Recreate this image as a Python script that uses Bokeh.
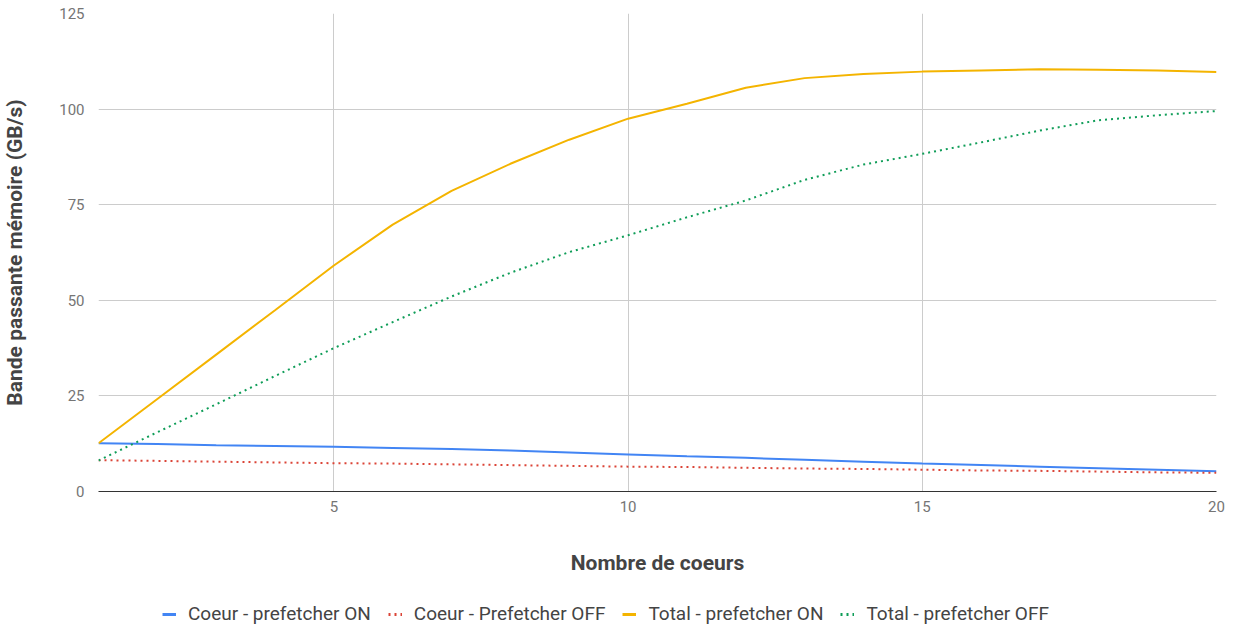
from bokeh.plotting import figure
from bokeh.layouts import column
from bokeh.models import ColumnDataSource, FixedTicker, Legend, LegendItem
from bokeh.embed import file_html
from bokeh.resources import INLINE

cores = list(range(1, 21))
coeur_on = [12.6, 12.4, 12.1, 11.9, 11.7, 11.4, 11.1, 10.7, 10.2, 9.7,
            9.2, 8.8, 8.3, 7.8, 7.3, 6.9, 6.5, 6.1, 5.7, 5.3]
coeur_off = [8.2, 8.0, 7.8, 7.6, 7.4, 7.3, 7.1, 6.9, 6.7, 6.5,
             6.4, 6.2, 6.0, 5.9, 5.7, 5.5, 5.4, 5.2, 5.0, 4.9]
total_on = [12.6, 24.2, 35.8, 47.4, 59.1, 69.8, 78.6, 85.7, 92.0, 97.5,
            101.4, 105.6, 108.1, 109.2, 109.8, 110.1, 110.4, 110.3, 110.1, 109.7]
total_off = [8.1, 15.5, 22.8, 30.2, 37.5, 44.3, 51.0, 57.2, 62.6, 67.0,
             71.7, 76.1, 81.5, 85.5, 88.3, 91.3, 94.4, 97.1, 98.4, 99.5]
series_names = ["Coeur - prefetcher ON", "Coeur - Prefetcher OFF",
                "Total - prefetcher ON", "Total - prefetcher OFF"]
x_ticks = [5, 10, 15, 20]
y_ticks = [0, 25, 50, 75, 100, 125]

src = ColumnDataSource(dict(x=cores, c_on=coeur_on, c_off=coeur_off,
                            t_on=total_on, t_off=total_off))

FONT = "Roboto"
p = figure(frame_width=1118, frame_height=478, x_range=(1, 20), y_range=(0, 125),
           output_backend="svg", toolbar_location=None,
           min_border_left=98, min_border_right=10, min_border_top=13,
           min_border_bottom=84)
p.outline_line_color = None

styles = [
    ("c_on", "#4285F4", "solid"),
    ("c_off", "#DB4437", "2 4"),
    ("t_on", "#F4B400", "solid"),
    ("t_off", "#0F9D58", "2 4"),
]
for col, color, dash in styles:
    p.line("x", col, source=src, line_color=color, line_width=2,
           line_dash=dash)

# axes
p.xaxis.ticker = FixedTicker(ticks=x_ticks)
p.yaxis.ticker = FixedTicker(ticks=y_ticks)
for ax in (p.xaxis[0], p.yaxis[0]):
    ax.major_tick_line_color = None
    ax.minor_tick_line_color = None
    ax.major_label_text_font = FONT
    ax.major_label_text_font_size = "15px"
    ax.major_label_text_color = "#757575"
    ax.axis_label_text_font = FONT
    ax.axis_label_text_font_size = "21px"
    ax.axis_label_text_font_style = "bold"
    ax.axis_label_text_color = "#444444"
p.xaxis.axis_line_color = "#333333"
p.yaxis.axis_line_color = None
p.xaxis.axis_label = "Nombre de coeurs"
p.yaxis.axis_label = "Bande passante mémoire (GB/s)"
p.xaxis.major_label_standoff = 3
p.yaxis.major_label_standoff = 8
p.xaxis.axis_label_standoff = 36
p.yaxis.axis_label_standoff = 29

p.xgrid.ticker = FixedTicker(ticks=x_ticks)
p.ygrid.ticker = FixedTicker(ticks=y_ticks)
p.xgrid.grid_line_color = "#cccccc"
p.ygrid.grid_line_color = "#cccccc"

# legend strip below the chart (series drawn out of its view, keys only)
lg = figure(width=1226, height=48, x_range=(0, 1), y_range=(-2, -1),
            x_axis_type=None, y_axis_type=None, output_backend="svg",
            toolbar_location=None, min_border=0)
lg.outline_line_color = None
lg.xgrid.visible = False
lg.ygrid.visible = False
key_renderers = []
for col, color, dash in styles:
    key_renderers.append(lg.line("x", col, source=src, line_color=color,
                                 line_width=3, line_dash=dash))
legend = Legend(items=[LegendItem(label=n, renderers=[r])
                       for n, r in zip(series_names, key_renderers)],
                orientation="horizontal", location=(64, 0),
                border_line_color=None, background_fill_alpha=0,
                label_text_font=FONT, label_text_font_size="19px",
                label_text_color="#444444", glyph_width=14, glyph_height=14,
                spacing=17, label_standoff=12, padding=0, margin=0)
lg.add_layout(legend, "center")

layout = column(p, lg, spacing=0)
open("out.html", "w").write(file_html(layout, INLINE))
